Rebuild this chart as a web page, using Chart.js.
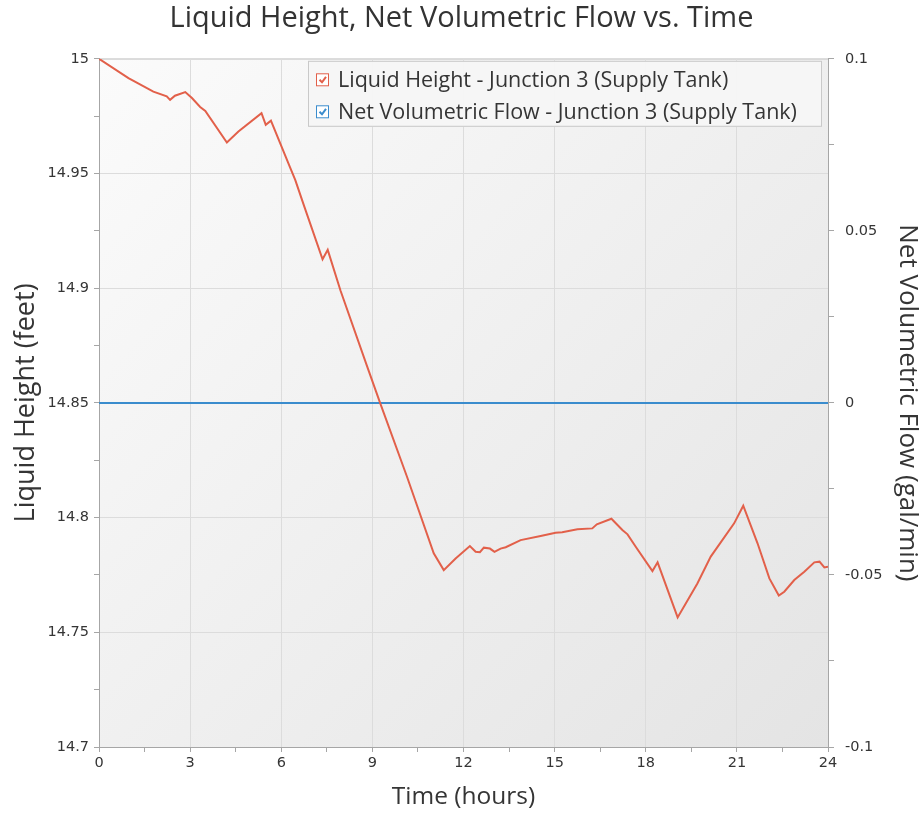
<!DOCTYPE html>
<html>
<head>
<meta charset="utf-8">
<script src="https://cdn.jsdelivr.net/npm/chart.js@4.4.1/dist/chart.umd.min.js"></script>
<style>
    html, body { margin: 0; padding: 0; background: #ffffff; }
    #wrap { width: 923px; height: 814px; }
</style>
</head>
<body>
<div id="wrap"><canvas id="chart" width="923" height="814"></canvas></div>
<script>
// time (hours) and liquid height (feet)
const timeHours = [0, 0.97, 1.79, 2.23, 2.34, 2.5, 2.84, 3.06, 3.33, 3.5, 4.21, 4.59, 5.35, 5.49, 5.66,
    6.3, 6.46, 6.74, 7.36, 7.53, 7.95, 8.83, 9.26, 10.14, 11.02, 11.35, 11.74, 12.21, 12.4, 12.54,
    12.67, 12.87, 13.02, 13.22, 13.39, 13.88, 14.54, 15.03, 15.25, 15.75, 16.24, 16.39, 16.87, 17.23,
    17.4, 17.67, 18.22, 18.39, 19.05, 19.7, 20.14, 20.91, 21.21, 21.68, 22.07, 22.38, 22.56, 22.89,
    23.22, 23.55, 23.72, 23.88, 24];
const liquidHeight = [15.0, 14.9916, 14.9857, 14.9836, 14.9821, 14.9839, 14.9855, 14.9829, 14.979, 14.9773,
    14.9635, 14.9683, 14.9763, 14.9712, 14.973, 14.9523, 14.9472, 14.9363, 14.9126, 14.9167, 14.899,
    14.8658, 14.8498, 14.8178, 14.7844, 14.7771, 14.7822, 14.7876, 14.7851, 14.7849, 14.7869, 14.7865,
    14.7851, 14.7865, 14.7871, 14.7902, 14.792, 14.7934, 14.7936, 14.7949, 14.7953, 14.7971, 14.7995,
    14.7946, 14.7927, 14.7873, 14.7767, 14.7805, 14.7565, 14.7713, 14.783, 14.7975, 14.8052, 14.7888,
    14.7735, 14.766, 14.7677, 14.7728, 14.7764, 14.7805, 14.7808, 14.7783, 14.7786];

// net volumetric flow (gal/min) stays at zero
const flowTime = [0, 24];
const netFlow = [0, 0];

const heightLabel = 'Liquid Height - Junction 3 (Supply Tank)';
const flowLabel = 'Net Volumetric Flow - Junction 3 (Supply Tank)';

const RED = '#e2604a';
const BLUE = '#3a8ccd';
const AXIS = '#a6a6a6';
const GRID = '#dcdcdc';
const TEXT = '#353535';
const TICK_FONT = { family: "'DejaVu Sans', sans-serif", size: 14.5 };
const TITLE_FAMILY = "'Open Sans', sans-serif";

function majorLabel(v) {
    const r = Math.round(v * 1000);
    return r % 50 === 0 ? String(r / 1000) : '';
}

// plot background gradient + top border
const plotBackground = {
    id: 'plotBackground',
    beforeDraw(chart) {
        const { ctx, chartArea: a } = chart;
        const g = ctx.createLinearGradient(a.left, a.top, a.right, a.bottom);
        g.addColorStop(0, '#fbfbfb');
        g.addColorStop(1, '#e4e4e4');
        ctx.save();
        ctx.fillStyle = g;
        ctx.fillRect(a.left, a.top, a.right - a.left, a.bottom - a.top);
        ctx.strokeStyle = '#d4d4d4';
        ctx.lineWidth = 1;
        ctx.beginPath();
        ctx.moveTo(a.left, a.top + 0.5);
        ctx.lineTo(a.right, a.top + 0.5);
        ctx.stroke();
        ctx.restore();
    }
};

// legend drawn inside the plot, top right, with check boxes
const insideLegend = {
    id: 'insideLegend',
    afterDraw(chart) {
        const { ctx, chartArea: a } = chart;
        const w = 514, h = 66;
        const x = a.right - 6 - w, y = a.top + 2;
        ctx.save();
        ctx.fillStyle = 'rgba(246,246,246,0.95)';
        ctx.fillRect(x, y, w, h);
        ctx.strokeStyle = '#c9c9c9';
        ctx.lineWidth = 1;
        ctx.strokeRect(x + 0.5, y + 0.5, w - 1, h - 1);
        ctx.font = "21.5px " + TITLE_FAMILY;
        ctx.textBaseline = 'middle';
        chart.data.datasets.forEach((ds, i) => {
            const cy = y + 19 + i * 32;
            const bx = x + 8, bs = 13;
            ctx.fillStyle = '#ffffff';
            ctx.fillRect(bx, cy - bs / 2, bs, bs);
            ctx.strokeStyle = ds.borderColor;
            ctx.lineWidth = 1;
            ctx.strokeRect(bx + 0.5, cy - bs / 2 + 0.5, bs - 1, bs - 1);
            ctx.lineWidth = 2;
            ctx.beginPath();
            ctx.moveTo(bx + 3.5, cy);
            ctx.lineTo(bx + 6, cy + 2.5);
            ctx.lineTo(bx + 10, cy - 3);
            ctx.stroke();
            ctx.fillStyle = TEXT;
            ctx.fillText(ds.label, x + 30, cy + 1);
        });
        ctx.restore();
    }
};

const ctx = document.getElementById('chart');

new Chart(ctx, {
    type: 'line',
    data: {
        datasets: [
            {
                label: heightLabel,
                data: timeHours.map((t, i) => ({ x: t, y: liquidHeight[i] })),
                borderColor: RED,
                backgroundColor: RED,
                borderWidth: 2,
                pointRadius: 0,
                tension: 0,
                yAxisID: 'y'
            },
            {
                label: flowLabel,
                data: flowTime.map((t, i) => ({ x: t, y: netFlow[i] })),
                borderColor: BLUE,
                backgroundColor: BLUE,
                borderWidth: 2,
                pointRadius: 0,
                tension: 0,
                yAxisID: 'y1'
            }
        ]
    },
    options: {
        responsive: false,
        animation: false,
        layout: { padding: 0 },
        scales: {
            x: {
                type: 'linear',
                min: 0,
                max: 24,
                afterFit: s => { s.height = 67; },
                border: { color: AXIS },
                grid: {
                    color: c => (c.tick && c.tick.value % 3 === 0) ? GRID : 'rgba(0,0,0,0)',
                    tickColor: AXIS,
                    tickLength: 5
                },
                ticks: {
                    stepSize: 1.5,
                    autoSkip: false,
                    maxRotation: 0,
                    padding: 3,
                    color: TEXT,
                    font: TICK_FONT,
                    callback: v => (v % 3 === 0 ? String(v) : '')
                },
                title: {
                    display: true,
                    text: 'Time (hours)',
                    color: TEXT,
                    font: { family: TITLE_FAMILY, size: 24.5 },
                    padding: { top: 2, bottom: 2 }
                }
            },
            y: {
                position: 'left',
                min: 14.7,
                max: 15,
                afterFit: s => { s.width = 99; },
                border: { color: AXIS },
                grid: {
                    color: c => (c.tick && majorLabel(c.tick.value) !== '') ? GRID : 'rgba(0,0,0,0)',
                    tickColor: AXIS,
                    tickLength: 5
                },
                ticks: {
                    stepSize: 0.025,
                    autoSkip: false,
                    padding: 5,
                    color: TEXT,
                    font: TICK_FONT,
                    callback: v => majorLabel(v)
                },
                title: {
                    display: true,
                    text: 'Liquid Height (feet)',
                    color: TEXT,
                    font: { family: TITLE_FAMILY, size: 27 },
                    padding: { top: 10, bottom: 0 }
                }
            },
            y1: {
                position: 'right',
                min: -0.1,
                max: 0.1,
                afterFit: s => { s.width = 95; },
                border: { color: AXIS },
                grid: {
                    drawOnChartArea: false,
                    tickColor: AXIS,
                    tickLength: 6
                },
                ticks: {
                    stepSize: 0.025,
                    autoSkip: false,
                    padding: 11,
                    color: TEXT,
                    font: TICK_FONT,
                    callback: v => majorLabel(v)
                },
                title: {
                    display: true,
                    text: 'Net Volumetric Flow (gal/min)',
                    color: TEXT,
                    font: { family: TITLE_FAMILY, size: 26 },
                    padding: { top: 0, bottom: 0 }
                }
            }
        },
        plugins: {
            legend: { display: false },
            tooltip: { enabled: false },
            title: {
                display: true,
                text: 'Liquid Height, Net Volumetric Flow vs. Time',
                color: '#333333',
                font: { family: TITLE_FAMILY, size: 29, weight: 'normal' },
                padding: { top: 1, bottom: 23 }
            }
        }
    },
    plugins: [plotBackground, insideLegend]
});
</script>
</body>
</html>
